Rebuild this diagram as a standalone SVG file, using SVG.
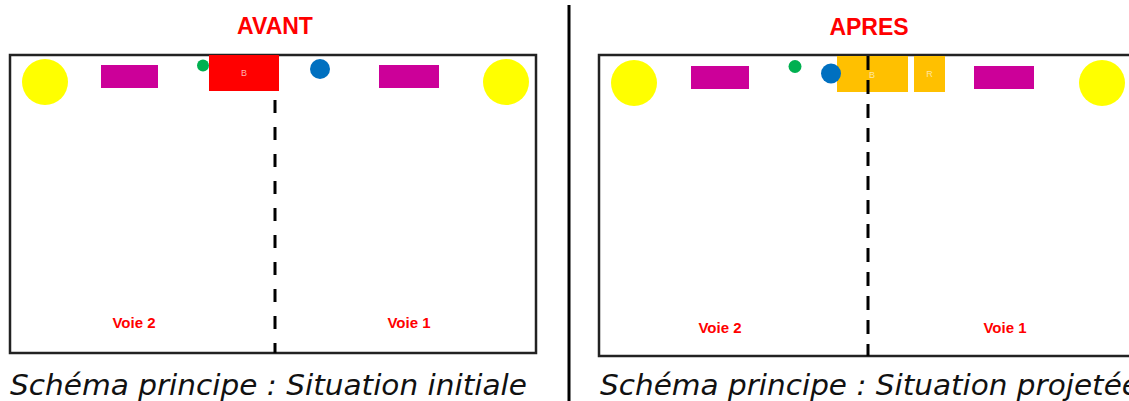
<svg xmlns="http://www.w3.org/2000/svg" width="1129" height="401" viewBox="0 0 1129 401">
  <style>
    .frame { fill: #ffffff; stroke: #222222; stroke-width: 2.5; }
    .title { font-family: "Liberation Sans", Arial, sans-serif; font-weight: bold; font-size: 23px; fill: #FF0000; text-anchor: middle; }
    .voie { font-family: "Liberation Sans", Arial, sans-serif; font-weight: bold; font-size: 15px; fill: #FF0000; text-anchor: middle; }
    .caption { font-family: "DejaVu Sans", Verdana, sans-serif; font-style: italic; font-size: 28px; fill: #111111; }
    .sun { fill: #FFFF00; }
    .pink { fill: #CC0099; }
    .green { fill: #00B050; }
    .blue { fill: #0070C0; }
    .orange { fill: #FFC000; }
    .tiny { font-family: "Liberation Sans", Arial, sans-serif; font-size: 9px; text-anchor: middle; }
    .axis { stroke: #000000; stroke-width: 3; }
  </style>

  <!-- Separator -->
  <line x1="569" y1="5" x2="569" y2="401" stroke="#000000" stroke-width="3"/>

  <!-- AVANT panel -->
  <g id="avant">
    <text class="title" x="275" y="34">AVANT</text>
    <rect class="frame" x="10" y="55" width="526" height="298"/>
    <circle class="sun" cx="45" cy="82" r="23"/>
    <rect class="pink" x="101" y="65" width="57" height="23"/>
    <circle class="green" cx="203" cy="65.5" r="6"/>
    <g id="avant-b">
      <rect x="209" y="55" width="70" height="36" fill="#FF0000"/>
      <text class="tiny" x="244" y="76" fill="#FFB0B0">B</text>
    </g>
    <circle class="blue" cx="320" cy="69" r="10"/>
    <rect class="pink" x="379" y="65" width="60" height="23"/>
    <circle class="sun" cx="506" cy="82" r="23"/>
    <text class="voie" x="134" y="328">Voie 2</text>
    <text class="voie" x="409" y="328">Voie 1</text>
    <text class="caption" x="10" y="395" textLength="517" lengthAdjust="spacingAndGlyphs">Schéma principe : Situation initiale</text>
  </g>

  <!-- APRES panel -->
  <g id="apres">
    <text class="title" x="869" y="35">APRES</text>
    <rect class="frame" x="599" y="55" width="560" height="301"/>
    <circle class="sun" cx="634" cy="83" r="23"/>
    <rect class="pink" x="691" y="66" width="58" height="23"/>
    <circle class="green" cx="795" cy="66.5" r="6.5"/>
    <g id="apres-b">
      <rect class="orange" x="837" y="56" width="71" height="36"/>
    </g>
    <g id="apres-r">
      <rect class="orange" x="914" y="56" width="31" height="36"/>
      <text class="tiny" x="929.5" y="77" fill="#FFE6A0">R</text>
    </g>
    <circle class="blue" cx="831" cy="73.5" r="10"/>
    <rect class="pink" x="974" y="66" width="60" height="23"/>
    <circle class="sun" cx="1102" cy="83" r="23"/>
    <text class="voie" x="720" y="333">Voie 2</text>
    <text class="voie" x="1005" y="333">Voie 1</text>
    <text class="caption" x="600" y="395" textLength="540" lengthAdjust="spacingAndGlyphs">Schéma principe : Situation projetée</text>
  </g>

  <!-- Connectors: lane dividers -->
  <g id="connectors">
    <line class="axis" x1="275" y1="100" x2="275" y2="353" stroke-dasharray="13 14"/>
    <line class="axis" x1="868" y1="56" x2="868" y2="356" stroke-dasharray="14 10"/>
  </g>
  <text class="tiny" x="872" y="78" fill="#FFE6A0">B</text>
</svg>
